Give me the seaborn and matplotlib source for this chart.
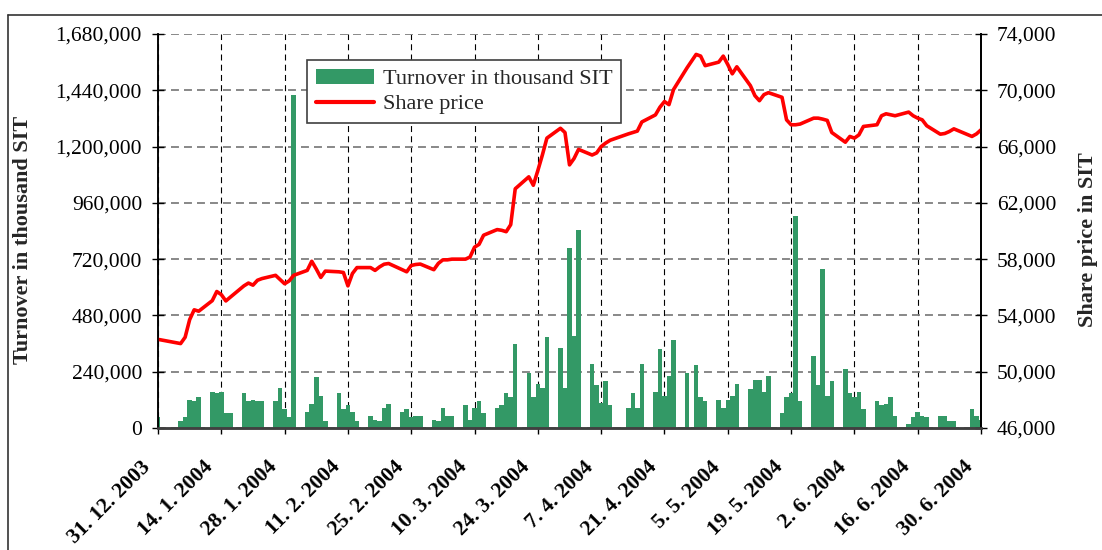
import numpy as np
import pandas as pd
import matplotlib
matplotlib.use("Agg")
import matplotlib.pyplot as plt
import matplotlib.ticker as mticker
import matplotlib.transforms as mtransforms
from matplotlib.lines import Line2D
from matplotlib.patches import Patch
import seaborn as sns

# trading days of the Ljubljana stock exchange, 31.12.2003 - 30.6.2004
holidays = ["2004-01-01", "2004-01-02", "2004-04-12", "2004-04-27", "2004-06-25"]
trading_days = pd.bdate_range("2003-12-31", "2004-06-30")
trading_days = trading_days[~trading_days.isin(pd.to_datetime(holidays))]

# turnover in thousand SIT (one value per trading day)
turnover = [
    48000,
    28000, 45000, 118000, 114000, 131000,
    153000, 149000, 153000, 63000, 63000,
    149000, 114000, 119000, 115000, 114000,
    114000, 170000, 80000, 46000, 1420000,
    67000, 101000, 217000, 136000, 29000,
    149000, 80000, 97000, 67000, 29000,
    50000, 33000, 29000, 84000, 101000,
    67000, 80000, 46000, 50000, 50000,
    33000, 29000, 84000, 50000, 50000,
    97000, 33000, 84000, 114000, 63000,
    84000, 97000, 149000, 131000, 359000,
    236000, 131000, 187000, 170000, 389000,
    341000, 170000, 766000, 393000, 843000,
    273000, 183000, 106000, 200000, 97000,
    84000, 149000, 84000, 273000,
    153000, 337000, 136000, 221000, 376000,
    236000, 270000, 131000, 114000,
    119000, 84000, 119000, 136000, 187000,
    166000, 204000, 204000, 153000, 221000,
    63000, 131000, 149000, 903000, 114000,
    307000, 183000, 680000, 136000, 200000,
    251000, 149000, 131000, 153000, 80000,
    114000, 97000, 101000, 131000, 50000,
    16000, 46000, 67000, 50000, 46000,
    50000, 50000, 29000, 29000,
    80000, 50000, 33000,
]

# share price in SIT
price = [
    52300,
    52000, 52450, 53700, 54400, 54300,
    55050, 55700, 55480, 55030, 55300,
    56100, 56300, 56150, 56500, 56620,
    56850, 56550, 56250, 56450, 56850,
    57200, 57850, 57300, 56700, 57150,
    57100, 57050, 56100, 56980, 57400,
    57400, 57200, 57450, 57640, 57690,
    57250, 57100, 57550, 57620, 57650,
    57250, 57700, 57950, 57950, 58000,
    58000, 58150, 58850, 59050, 59700,
    60100, 60050, 59950, 60450, 63000,
    63850, 63250, 64300, 65400, 66600,
    67300, 67000, 64700, 65150, 65800,
    65400, 65550, 66000, 66250, 66450,
    66900, 67000, 67100, 67750,
    68250, 68800, 69200, 68980, 70050,
    71600, 72550, 72430, 71750,
    72000, 72430, 71830, 71170, 71670,
    70330, 69620, 69260, 69690, 69830,
    69500, 67900, 67550, 67550, 67600,
    68020, 68020, 67950, 67860, 67000,
    66310, 66720, 66600, 66830, 67430,
    67550, 68190, 68330, 68260, 68190,
    68450, 68190, 68020, 67900, 67480,
    66880, 66930, 67070, 67260,
    66720, 66900, 67190,
]

tick_labels = ["31. 12. 2003", "14. 1. 2004", "28. 1. 2004", "11. 2. 2004",
               "25. 2. 2004", "10. 3. 2004", "24. 3. 2004", "7. 4. 2004",
               "21. 4. 2004", "5. 5. 2004", "19. 5. 2004", "2. 6. 2004",
               "16. 6. 2004", "30. 6. 2004"]

start = trading_days[0]
df = pd.DataFrame({
    "day": (trading_days - start).days,
    "turnover": turnover,
    "price": price,
})
tick_days = (pd.to_datetime(tick_labels, format="%d. %m. %Y") - start).days

sns.set_theme(style="white")
plt.rcParams["font.family"] = ["Liberation Serif", "DejaVu Serif"]

fig = plt.figure(figsize=(11.02, 5.5), dpi=100)
ax = fig.add_axes([158 / 1102, 1 - 428 / 550, 823 / 1102, 394 / 550])
ax2 = ax.twinx()

green = "#339966"
sns.histplot(data=df, x="day", weights="turnover", discrete=True, shrink=1.0,
             color=green, alpha=1, edgecolor="none", linewidth=0, ax=ax)
sns.lineplot(data=df, x="day", y="price", color="red", linewidth=2.6,
             ax=ax2, legend=False)

ax.set_xlim(0, 182)
ax.set_ylim(0, 1680000)
ax2.set_ylim(46000, 74000)
ax.set_yticks(np.arange(0, 1680001, 240000))
ax2.set_yticks(np.arange(46000, 74001, 4000))
ax.yaxis.set_major_formatter(mticker.StrMethodFormatter("{x:,.0f}"))
ax2.yaxis.set_major_formatter(mticker.StrMethodFormatter("{x:,.0f}"))
ax.set_xticks(tick_days)
ax.set_xticklabels(tick_labels, rotation=45, ha="right", rotation_mode="anchor",
                   fontsize=15.5, fontweight="bold")
ax.set_xlabel("")

# gridlines
ax.set_axisbelow(True)
ax.yaxis.grid(True, linestyle=(0, (4.4, 2.8)), color="#7f7f7f", linewidth=1.3)
ax.xaxis.grid(True, linestyle=(0, (5.4, 3.8)), color="black", linewidth=0.8)
ax2.grid(False)

for a in (ax, ax2):
    a.spines["top"].set_visible(False)
    a.spines["left"].set_color("black")
    a.spines["right"].set_color("black")
    a.spines["left"].set_linewidth(1.1)
    a.spines["right"].set_linewidth(1.3)
    a.spines["bottom"].set_color("#404040")
    a.spines["bottom"].set_linewidth(1.8)

ax.tick_params(axis="y", direction="inout", length=8, width=1, labelsize=15.5,
               pad=7.5, left=True, colors="black")
ax2.tick_params(axis="y", direction="inout", length=8, width=1, labelsize=15.5,
                pad=7.5, right=True, colors="black")
ax.tick_params(axis="x", direction="out", length=4, width=1, pad=17,
               bottom=True, colors="black")

offset = mtransforms.ScaledTranslation(-18 / 100, 0, fig.dpi_scale_trans)
for lab in ax.get_xticklabels():
    lab.set_transform(lab.get_transform() + offset)

ax.set_ylabel("Turnover in thousand SIT", fontsize=16, fontweight="bold")
ax.yaxis.set_label_coords(-0.152, 0.477)
ax2.set_ylabel("Share price in SIT", fontsize=16, fontweight="bold")
ax2.yaxis.set_label_coords(1.118, 0.477)

handles = [Patch(facecolor=green, edgecolor="none", label="Turnover in thousand SIT"),
           Line2D([], [], color="red", linewidth=3, label="Share price")]
leg = ax2.legend(handles=handles, loc="upper left", bbox_to_anchor=(0.181, 0.934),
                 fontsize=16, frameon=True, fancybox=False, edgecolor="#404040",
                 framealpha=1, borderaxespad=0, handlelength=2.6,
                 handletextpad=0.4, borderpad=0.4, labelspacing=0.2)
leg.get_frame().set_linewidth(1.2)

# outer chart frame
fig.add_artist(Line2D([8 / 1102, 8 / 1102], [0, 1 - 15 / 550], color="#333333",
                      linewidth=1.2, transform=fig.transFigure))
fig.add_artist(Line2D([8 / 1102, 1], [1 - 15 / 550, 1 - 15 / 550], color="#333333",
                      linewidth=1.2, transform=fig.transFigure))

fig.savefig("out.png", dpi=100)
